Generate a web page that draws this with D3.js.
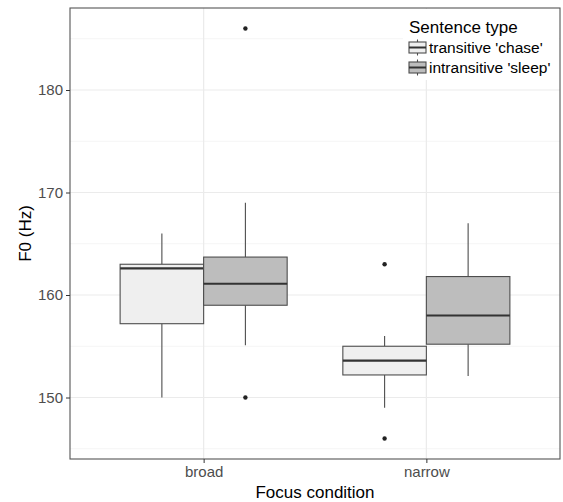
<!DOCTYPE html>
<html lang="en">
<head>
    <meta charset="UTF-8">
    <title>F0 by focus condition</title>
    <script src="https://d3js.org/d3.v7.min.js"></script>
    <style>
        body { margin: 0; background: #fff; font-family: "Liberation Sans", Arial, sans-serif; }
        .axis text { font-size: 15px; fill: #4d4d4d; font-family: "Liberation Sans", Arial, sans-serif; }
        .axis line { stroke: #333; }
        .axis path { display: none; }
        .title { font-size: 17px; fill: #000; }
    </style>
</head>
<body>
<div id="chart"></div>
<script>
// data
const conditions = ["broad", "narrow"];
const sentenceTypes = ["transitive 'chase'", "intransitive 'sleep'"];
const fills = ["#efefef", "#bdbdbd"];

// [lower whisker, Q1, median, Q3, upper whisker] per condition
const transitiveStats = [
    [150, 157.2, 162.6, 163.0, 166],
    [149, 152.2, 153.6, 155.0, 156]
];
const intransitiveStats = [
    [155.1, 159.0, 161.1, 163.7, 169],
    [152.1, 155.2, 158.0, 161.8, 167]
];
const transitiveOutliers = [["narrow", 163], ["narrow", 146]];
const intransitiveOutliers = [["broad", 186], ["broad", 150]];

const yTicks = [150, 160, 170, 180];
const yMinor = [145, 155, 165, 175, 185];

const W = 563, H = 502;
const margin = { top: 8, right: 3, bottom: 43, left: 70 };
const pw = W - margin.left - margin.right;
const ph = H - margin.top - margin.bottom;

const svg = d3.select("#chart").append("svg")
    .attr("width", W).attr("height", H);
const g = svg.append("g").attr("transform", `translate(${margin.left},${margin.top})`);

const x = d3.scalePoint().domain(conditions).range([0, pw]).padding(0.6);
const dodge = d3.scaleBand().domain(sentenceTypes)
    .range([-0.375 * x.step(), 0.375 * x.step()]);
const y = d3.scaleLinear().domain([144, 188]).range([ph, 0]);

// grid
g.selectAll("line.minor").data(yMinor).enter().append("line")
    .attr("x1", 0).attr("x2", pw)
    .attr("y1", d => y(d)).attr("y2", d => y(d))
    .attr("stroke", "#f2f2f2").attr("stroke-width", 0.8);
g.selectAll("line.major").data(yTicks).enter().append("line")
    .attr("x1", 0).attr("x2", pw)
    .attr("y1", d => y(d)).attr("y2", d => y(d))
    .attr("stroke", "#ebebeb").attr("stroke-width", 1.2);
g.selectAll("line.vmajor").data(conditions).enter().append("line")
    .attr("x1", d => x(d)).attr("x2", d => x(d))
    .attr("y1", 0).attr("y2", ph)
    .attr("stroke", "#ebebeb").attr("stroke-width", 1.2);

// boxes
const series = [
    { name: sentenceTypes[0], stats: transitiveStats, outliers: transitiveOutliers, fill: fills[0] },
    { name: sentenceTypes[1], stats: intransitiveStats, outliers: intransitiveOutliers, fill: fills[1] }
];

series.forEach(s => {
    const bw = dodge.bandwidth();
    s.stats.forEach((st, i) => {
        const left = x(conditions[i]) + dodge(s.name);
        const cx = left + bw / 2;
        const [lo, q1, med, q3, hi] = st;
        g.append("line").attr("x1", cx).attr("x2", cx)
            .attr("y1", y(hi)).attr("y2", y(q3))
            .attr("stroke", "#4d4d4d").attr("stroke-width", 1.1);
        g.append("line").attr("x1", cx).attr("x2", cx)
            .attr("y1", y(q1)).attr("y2", y(lo))
            .attr("stroke", "#4d4d4d").attr("stroke-width", 1.1);
        g.append("rect").attr("x", left).attr("y", y(q3))
            .attr("width", bw).attr("height", y(q1) - y(q3))
            .attr("fill", s.fill).attr("stroke", "#4d4d4d").attr("stroke-width", 1.1);
        g.append("line").attr("x1", left).attr("x2", left + bw)
            .attr("y1", y(med)).attr("y2", y(med))
            .attr("stroke", "#333").attr("stroke-width", 2.2);
    });
    g.selectAll(null).data(s.outliers).enter().append("circle")
        .attr("cx", d => x(d[0]) + dodge(s.name) + dodge.bandwidth() / 2)
        .attr("cy", d => y(d[1]))
        .attr("r", 2.2).attr("fill", "#222");
});

// panel border
g.append("rect").attr("x", 0).attr("y", 0).attr("width", pw).attr("height", ph)
    .attr("fill", "none").attr("stroke", "#555").attr("stroke-width", 1.1);

// axes
g.append("g").attr("class", "axis")
    .call(d3.axisLeft(y).tickValues(yTicks).tickSize(4).tickPadding(3));
g.append("g").attr("class", "axis")
    .attr("transform", `translate(0,${ph})`)
    .call(d3.axisBottom(x).tickSize(4).tickPadding(3));

// axis titles
svg.append("text").attr("class", "title")
    .attr("x", margin.left + pw / 2).attr("y", 498)
    .attr("text-anchor", "middle").text("Focus condition");
svg.append("text").attr("class", "title")
    .attr("transform", `translate(31,${margin.top + ph / 2}) rotate(-90)`)
    .attr("text-anchor", "middle").text("F0 (Hz)");

// legend inside the panel
const lg = svg.append("g");
lg.append("rect").attr("x", 403).attr("y", 9).attr("width", 156).attr("height", 71)
    .attr("fill", "#fff");
lg.append("text").attr("class", "title").attr("x", 409).attr("y", 33)
    .text("Sentence type");
sentenceTypes.forEach((name, i) => {
    const cy = 47.5 + i * 20;
    const kx = 409, kw = 17;
    lg.append("line").attr("x1", kx + kw / 2).attr("x2", kx + kw / 2)
        .attr("y1", cy - 8).attr("y2", cy + 8)
        .attr("stroke", "#4d4d4d").attr("stroke-width", 1.1);
    lg.append("rect").attr("x", kx).attr("y", cy - 5.5).attr("width", kw).attr("height", 11)
        .attr("fill", fills[i]).attr("stroke", "#4d4d4d").attr("stroke-width", 1.1);
    lg.append("line").attr("x1", kx).attr("x2", kx + kw)
        .attr("y1", cy).attr("y2", cy)
        .attr("stroke", "#333").attr("stroke-width", 2);
    lg.append("text").attr("x", 429).attr("y", cy + 5.5)
        .style("font-size", "15.5px").style("fill", "#000")
        .text(name);
});
</script>
</body>
</html>
